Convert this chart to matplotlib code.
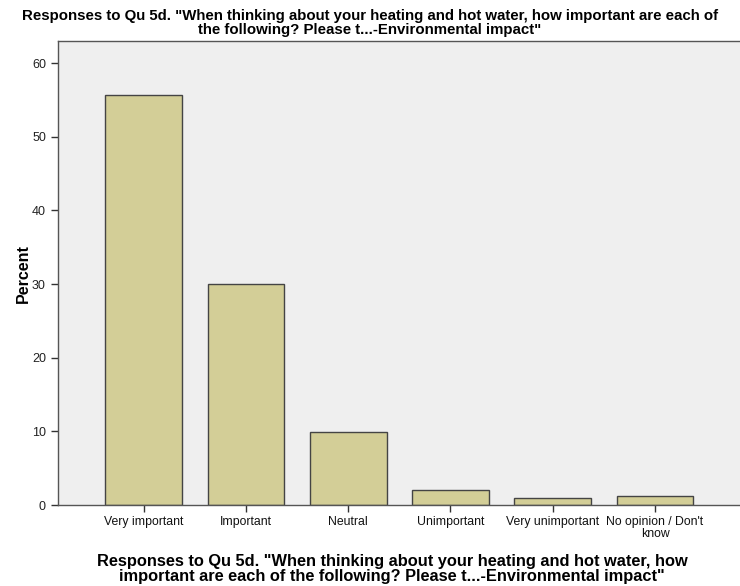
import matplotlib.pyplot as plt

categories = ["Very important", "Important", "Neutral", "Unimportant",
              "Very unimportant", "No opinion / Don't\nknow"]
percent = [55.7, 30.0, 9.9, 2.0, 1.0, 1.3]
yticks = [0, 10, 20, 30, 40, 50, 60]

title = ('Responses to Qu 5d. "When thinking about your heating and hot water, how important are each of\n'
         'the following? Please t...-Environmental impact"')
xlabel = ('Responses to Qu 5d. "When thinking about your heating and hot water, how\n'
          'important are each of the following? Please t...-Environmental impact"')

plt.rcParams["font.family"] = ["Liberation Sans", "DejaVu Sans"]

fig = plt.figure(figsize=(7.4, 5.86), dpi=100)
ax = fig.add_axes([0.078, 0.138, 0.926, 0.792])
ax.set_facecolor("#efefef")

x = range(len(categories))
ax.bar(x, percent, width=0.75, color="#d3ce97", edgecolor="#444444", linewidth=1.0)

ax.set_xlim(-0.84, 5.86)
ax.set_ylim(0, 63)
ax.set_yticks(yticks)
ax.set_xticks(list(x))
ax.set_xticklabels(categories, fontsize=8.8, linespacing=1.0)
ax.tick_params(axis="y", labelsize=9, length=5, width=1, colors="#333333", labelcolor="#222222")
ax.tick_params(axis="x", length=5, width=1, colors="#333333", labelcolor="#111111", pad=3)

for s in ax.spines.values():
    s.set_color("#555555")
    s.set_linewidth(1.0)

ax.set_ylabel("Percent", fontsize=11.5, fontweight="bold", labelpad=1)
ax.set_xlabel(xlabel, fontsize=11.8, fontweight="bold", labelpad=10, linespacing=1.0)
ax.xaxis.label.set_x(0.488)
fig.suptitle(title, fontsize=10.8, fontweight="bold", y=0.985, linespacing=0.98)

fig.savefig("out.png", dpi=100)
